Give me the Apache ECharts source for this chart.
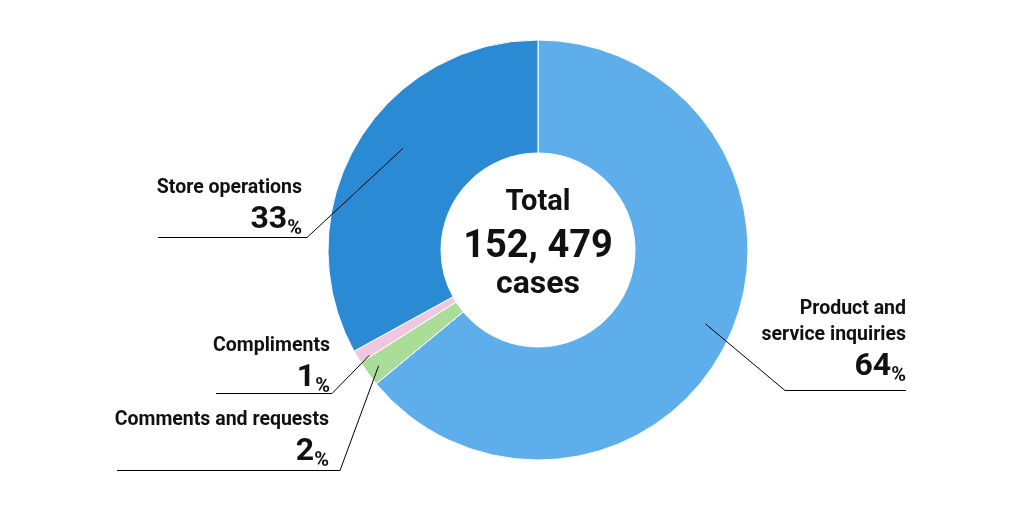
<!DOCTYPE html>
<html>
<head>
<meta charset="utf-8">
<style>
  html, body { margin: 0; padding: 0; background: #fff; }
  #donut-chart { width: 1019px; height: 513px; }
</style>
<script src="https://cdn.jsdelivr.net/npm/echarts@6/dist/echarts.min.js"></script>
</head>
<body>
<div id="donut-chart"></div>
<script>
// data
var categories = ['Product and\nservice inquiries', 'Comments and requests', 'Compliments', 'Store operations'];
var shares = [64, 2, 1, 33];
var totalCases = 152479;
var sliceColors = ['#5FAEEC', '#A9DD98', '#F0C7E1', '#2B8AD4'];

var CX = 538, CY = 250;
var FONT = 'Roboto, "DejaVu Sans Condensed", sans-serif';

// label placement: text right edge / bottom, leader elbow + end, how far in the leader starts
var anchors = [
  {textX: 906, textY: 386, elbow: [785, 390.5], end: 906, reach: 183, turn: -1.4},
  {textX: 329, textY: 471, elbow: [340, 470.5], end: 117, reach: 197, turn: 0},
  {textX: 330, textY: 397, elbow: [332, 393.5], end: 216, reach: 199, turn: -1.4},
  {textX: 302, textY: 239, elbow: [307, 237.5], end: 158, reach: 169, turn: 6.4}
];

// mid angle of every slice (clockwise from 12 o'clock)
var sum = shares.reduce(function (a, b) { return a + b; }, 0);
var midAngles = [];
var acc = 0;
for (var i = 0; i < shares.length; i++) {
  midAngles.push(360 * (acc + shares[i] / 2) / sum);
  acc += shares[i];
}

var pieData = categories.map(function (name, i) {
  return {name: name, value: shares[i], itemStyle: {color: sliceColors[i]}};
});

var ring = {
  type: 'pie',
  center: [CX, CY],
  radius: [97, 210],
  startAngle: 90,
  clockwise: true,
  avoidLabelOverlap: false,
  emphasis: {disabled: true}
};

var myChart = echarts.init(document.getElementById('donut-chart'));
myChart.setOption({
  animation: false,
  series: [
    // the coloured ring
    Object.assign({}, ring, {
      z: 2,
      itemStyle: {borderColor: '#fff', borderWidth: 1},
      label: {show: false},
      labelLine: {show: false},
      data: pieData
    }),
    // same ring, invisible, only so labels + leaders draw above the slices
    Object.assign({}, ring, {
      z: 3,
      silent: true,
      itemStyle: {color: 'rgba(0,0,0,0)', borderWidth: 0},
      label: {
        show: true,
        position: 'outside',
        color: '#111',
        fontFamily: FONT,
        formatter: function (p) {
          var lines = p.name.split('\n').map(function (s) { return '{name|' + s + '}'; });
          lines.push('{num|' + p.value + '}{pct|%}');
          return lines.join('\n');
        },
        rich: {
          name: {fontFamily: FONT, fontSize: 19.5, fontWeight: 'bold', lineHeight: 26, color: '#111', align: 'right'},
          num: {fontFamily: FONT, fontSize: 32, fontWeight: 'bold', lineHeight: 38, color: '#111', align: 'right'},
          pct: {fontFamily: FONT, fontSize: 20, fontWeight: 'bold', lineHeight: 37, color: '#111', align: 'right', verticalAlign: 'bottom'}
        }
      },
      labelLine: {
        show: true,
        smooth: false,
        lineStyle: {color: '#000', width: 1}
      },
      labelLayout: function (params) {
        var a = anchors[params.dataIndex];
        var phi = (midAngles[params.dataIndex] - 90 + a.turn) * Math.PI / 180;
        var start = [CX + a.reach * Math.cos(phi), CY + a.reach * Math.sin(phi)];
        return {
          x: a.textX,
          y: a.textY,
          align: 'right',
          verticalAlign: 'bottom',
          labelLinePoints: [start, a.elbow, [a.end, a.elbow[1]]]
        };
      },
      data: pieData.map(function (d) { return {name: d.name, value: d.value}; })
    }),
    {
      // white hole with the total in it
      type: 'pie',
      center: [CX, CY],
      radius: [0, 96],
      silent: true,
      z: 4,
      itemStyle: {color: '#fff'},
      labelLine: {show: false},
      label: {
        show: true,
        position: 'center',
        padding: [0, 0, 18, 0],
        formatter: '{t|Total}\n{n|' + totalCases.toLocaleString('en-US').replace(',', ', ') + '}\n{c|cases}',
        rich: {
          t: {fontFamily: FONT, fontSize: 29, fontWeight: 'bold', lineHeight: 43, color: '#111'},
          n: {fontFamily: FONT, fontSize: 38, fontWeight: 'bold', lineHeight: 45, color: '#111'},
          c: {fontFamily: FONT, fontSize: 32, fontWeight: 'bold', lineHeight: 31, color: '#111'}
        }
      },
      data: [{name: 'total', value: 1}]
    }
  ]
});
</script>
</body>
</html>
